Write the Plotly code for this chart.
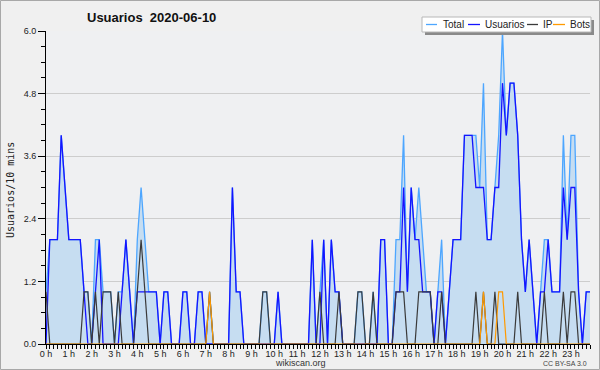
import plotly.graph_objects as go

# 10-minute slots of the day (0 .. 143)
slots = list(range(144))
hour_ticks = [0, 6, 12, 18, 24, 30, 36, 42, 48, 54, 60, 66, 72, 78, 84, 90, 96, 102, 108, 114, 120, 126, 132, 138]
hour_labels = ["0 h", "1 h", "2 h", "3 h", "4 h", "5 h", "6 h", "7 h", "8 h", "9 h", "10 h", "11 h",
               "12 h", "13 h", "14 h", "15 h", "16 h", "17 h", "18 h", "19 h", "20 h", "21 h", "22 h", "23 h"]
y_ticks = [0, 1.2, 2.4, 3.6, 4.8, 6.0]
y_labels = ["0.0", "1.2", "2.4", "3.6", "4.8", "6.0"]

usuarios = [0, 2, 2, 2, 4, 3, 2, 2, 2, 2,
            1, 0, 0, 1, 2, 0, 0, 0, 0, 0,
            1, 2, 1, 0, 1, 1, 1, 1, 1, 1,
            0, 1, 1, 0, 0, 0, 1, 1, 0, 0,
            1, 1, 0, 0, 0, 0, 0, 0, 0, 3,
            1, 1, 0, 0, 0, 0, 0, 0, 0, 0,
            0, 1, 0, 0, 0, 0, 0, 0, 0, 0,
            2, 0, 0, 2, 0, 2, 1, 1, 0, 0,
            0, 0, 0, 0, 0, 0, 0, 0, 2, 2,
            0, 0, 1, 1, 3, 1, 3, 2, 2, 1,
            1, 1, 0, 1, 1, 0, 1, 2, 2, 2,
            4, 4, 4, 3, 3, 3, 2, 2, 3, 3,
            5, 4, 5, 5, 4, 2, 1, 2, 1, 0,
            1, 1, 2, 1, 1, 1, 3, 2, 3, 3,
            1, 0, 1, 1]

ip = [1, 0, 0, 0, 0, 0, 0, 0, 0, 0,
      1, 1, 0, 1, 0, 1, 1, 1, 0, 1,
      0, 0, 0, 0, 1, 2, 1, 0, 0, 0,
      0, 0, 0, 0, 0, 0, 0, 0, 0, 0,
      0, 0, 0, 1, 0, 0, 0, 0, 0, 0,
      0, 0, 0, 0, 0, 0, 0, 1, 1, 0,
      0, 0, 0, 0, 0, 0, 0, 0, 0, 0,
      0, 0, 1, 0, 0, 0, 0, 1, 0, 0,
      0, 0, 1, 1, 0, 0, 1, 0, 0, 0,
      0, 0, 1, 1, 1, 0, 0, 0, 1, 1,
      1, 1, 0, 0, 1, 0, 0, 0, 0, 0,
      0, 0, 0, 1, 0, 1, 0, 0, 1, 0,
      0, 0, 0, 0, 1, 0, 0, 0, 0, 0,
      0, 1, 0, 0, 0, 0, 1, 0, 1, 1,
      0, 0, 0, 0]

bots = [0, 0, 0, 0, 0, 0, 0, 0, 0, 0,
        0, 0, 0, 0, 0, 0, 0, 0, 0, 0,
        0, 0, 0, 0, 0, 0, 0, 0, 0, 0,
        0, 0, 0, 0, 0, 0, 0, 0, 0, 0,
        0, 0, 0, 1, 0, 0, 0, 0, 0, 0,
        0, 0, 0, 0, 0, 0, 0, 0, 0, 0,
        0, 0, 0, 0, 0, 0, 0, 0, 0, 0,
        0, 0, 0, 0, 0, 0, 0, 0, 0, 0,
        0, 0, 0, 0, 0, 0, 0, 0, 0, 0,
        0, 0, 0, 0, 0, 0, 0, 0, 0, 0,
        0, 0, 0, 0, 0, 0, 0, 0, 0, 0,
        0, 0, 0, 0, 0, 1, 0, 0, 0, 1,
        1, 0, 0, 0, 0, 0, 0, 0, 0, 0,
        0, 0, 0, 0, 0, 0, 0, 0, 0, 0,
        0, 0, 0, 0]

total = [1, 2, 2, 2, 4, 3, 2, 2, 2, 2,
         1, 1, 0, 2, 2, 1, 1, 1, 0, 1,
         1, 2, 1, 0, 2, 3, 2, 1, 1, 1,
         0, 1, 1, 0, 0, 0, 1, 1, 0, 0,
         1, 1, 0, 1, 0, 0, 0, 0, 0, 3,
         1, 1, 0, 0, 0, 0, 0, 1, 1, 0,
         0, 1, 0, 0, 0, 0, 0, 0, 0, 0,
         2, 0, 1, 2, 0, 2, 1, 1, 0, 0,
         0, 0, 1, 1, 0, 0, 1, 0, 2, 2,
         0, 0, 2, 2, 4, 1, 3, 2, 3, 2,
         1, 1, 0, 1, 2, 0, 1, 2, 2, 2,
         4, 4, 4, 4, 3, 5, 2, 2, 3, 4,
         6, 4, 5, 5, 4, 2, 1, 2, 1, 0,
         1, 2, 2, 1, 1, 1, 4, 2, 4, 4,
         1, 0, 1, 1]

C_TOTAL = "#4da6ff"
C_FILL = "#c6ddf1"
C_USR = "#1414ff"
C_IP = "#3a3a3a"
C_BOT = "#ff9a00"

W, H = 600, 370
L, R, T, B = 46, 10, 31, 26
PW, PH = W - L - R, H - T - B


def px(x):
    return (x - L) / PW


def py(y):
    return (H - B - y) / PH


fig = go.Figure()
fig.add_trace(go.Scatter(x=slots, y=total, mode="lines", fill="tozeroy", fillcolor=C_FILL,
                         line=dict(color=C_TOTAL, width=1.3), name="Total", hoverinfo="skip"))
fig.add_trace(go.Scatter(x=slots, y=usuarios, mode="lines",
                         line=dict(color=C_USR, width=1.3), name="Usuarios", hoverinfo="skip"))
fig.add_trace(go.Scatter(x=slots, y=ip, mode="lines",
                         line=dict(color=C_IP, width=1.2), name="IP", hoverinfo="skip"))
fig.add_trace(go.Scatter(x=slots, y=bots, mode="lines",
                         line=dict(color=C_BOT, width=1.2), name="Bots", hoverinfo="skip"))

shapes = []
annotations = []

# outer frame
shapes.append(dict(type="rect", xref="paper", yref="paper", x0=px(0.5), x1=px(599.5), y0=py(0.5), y1=py(369.5),
                   line=dict(color="#a8a8a8", width=1), fillcolor="rgba(0,0,0,0)", layer="below"))

# legend (drawn by hand to get the short line samples)
shapes.append(dict(type="rect", xref="paper", yref="paper", x0=px(425), x1=px(594), y0=py(20), y1=py(35),
                   line=dict(width=0), fillcolor="#8a8a8a", layer="above"))
shapes.append(dict(type="rect", xref="paper", yref="paper", x0=px(422), x1=px(591), y0=py(17), y1=py(32),
                   line=dict(color="#b8b8b8", width=1), fillcolor="#ffffff", layer="above"))
legend_items = [("Total", C_TOTAL, 426, 437, 441), ("Usuarios", C_USR, 468, 480, 483),
                ("IP", C_IP, 527, 538, 541), ("Bots", C_BOT, 553, 565, 568)]
for name, col, lx0, lx1, tx in legend_items:
    shapes.append(dict(type="line", xref="paper", yref="paper", x0=px(lx0), x1=px(lx1), y0=py(24.5), y1=py(24.5),
                       line=dict(color=col, width=1.3), layer="above"))
    annotations.append(dict(text=name, xref="paper", yref="paper", x=px(tx), y=py(24.5), xanchor="left",
                            yanchor="middle", showarrow=False,
                            font=dict(family="Liberation Sans", size=10, color="#222222")))

# title
annotations.append(dict(text="<b>Usuarios\u00a0 2020-06-10</b>", xref="paper", yref="paper", x=px(151), y=py(17),
                        xanchor="center", yanchor="middle", showarrow=False,
                        font=dict(family="Liberation Sans", size=13, color="#111111")))
# y axis title
annotations.append(dict(text="Usuarios/10 mins", xref="paper", yref="paper", x=px(10), y=py(190),
                        xanchor="center", yanchor="middle", textangle=-90, showarrow=False,
                        font=dict(family="DejaVu Sans Mono", size=10, color="#222222")))
# footer
annotations.append(dict(text="wikiscan.org", xref="paper", yref="paper", x=px(300), y=py(362.5),
                        xanchor="center", yanchor="middle", showarrow=False,
                        font=dict(family="Liberation Sans", size=9, color="#333333")))
annotations.append(dict(text="CC BY-SA 3.0", xref="paper", yref="paper", x=px(589), y=py(363.5),
                        xanchor="right", yanchor="middle", showarrow=False,
                        font=dict(family="Liberation Sans", size=7, color="#444444")))

fig.update_layout(
    width=W, height=H,
    margin=dict(l=L, r=R, t=T, b=B, pad=0),
    paper_bgcolor="#f0f0f0",
    plot_bgcolor="#eff0f2",
    showlegend=False,
    shapes=shapes,
    annotations=annotations,
    xaxis=dict(range=[0, 143], showgrid=False, zeroline=False, showline=True, linecolor="#000000", linewidth=1,
               ticks="outside", ticklen=4, tickcolor="#000000", tickwidth=1,
               tickvals=hour_ticks, ticktext=hour_labels, ticklabelstandoff=-3,
               tickfont=dict(family="Liberation Sans", size=9, color="#222222"),
               minor=dict(ticks="outside", ticklen=4, dtick=1, tick0=0, tickcolor="#000000", showgrid=False),
               fixedrange=True),
    yaxis=dict(range=[0, 6], showgrid=True, gridcolor="#cdcdcd", gridwidth=1, zeroline=False,
               showline=True, linecolor="#000000", linewidth=1,
               ticks="outside", ticklen=7, tickcolor="#000000", tickwidth=1,
               tickvals=y_ticks, ticktext=y_labels,
               tickfont=dict(family="Liberation Sans", size=9, color="#222222"),
               minor=dict(ticks="outside", ticklen=4, dtick=0.3, tick0=0, tickcolor="#000000", showgrid=False),
               fixedrange=True),
)

fig.write_html("out.html", config={"displayModeBar": False},
               post_script="document.body.style.margin='0px';document.body.style.padding='0px';")
